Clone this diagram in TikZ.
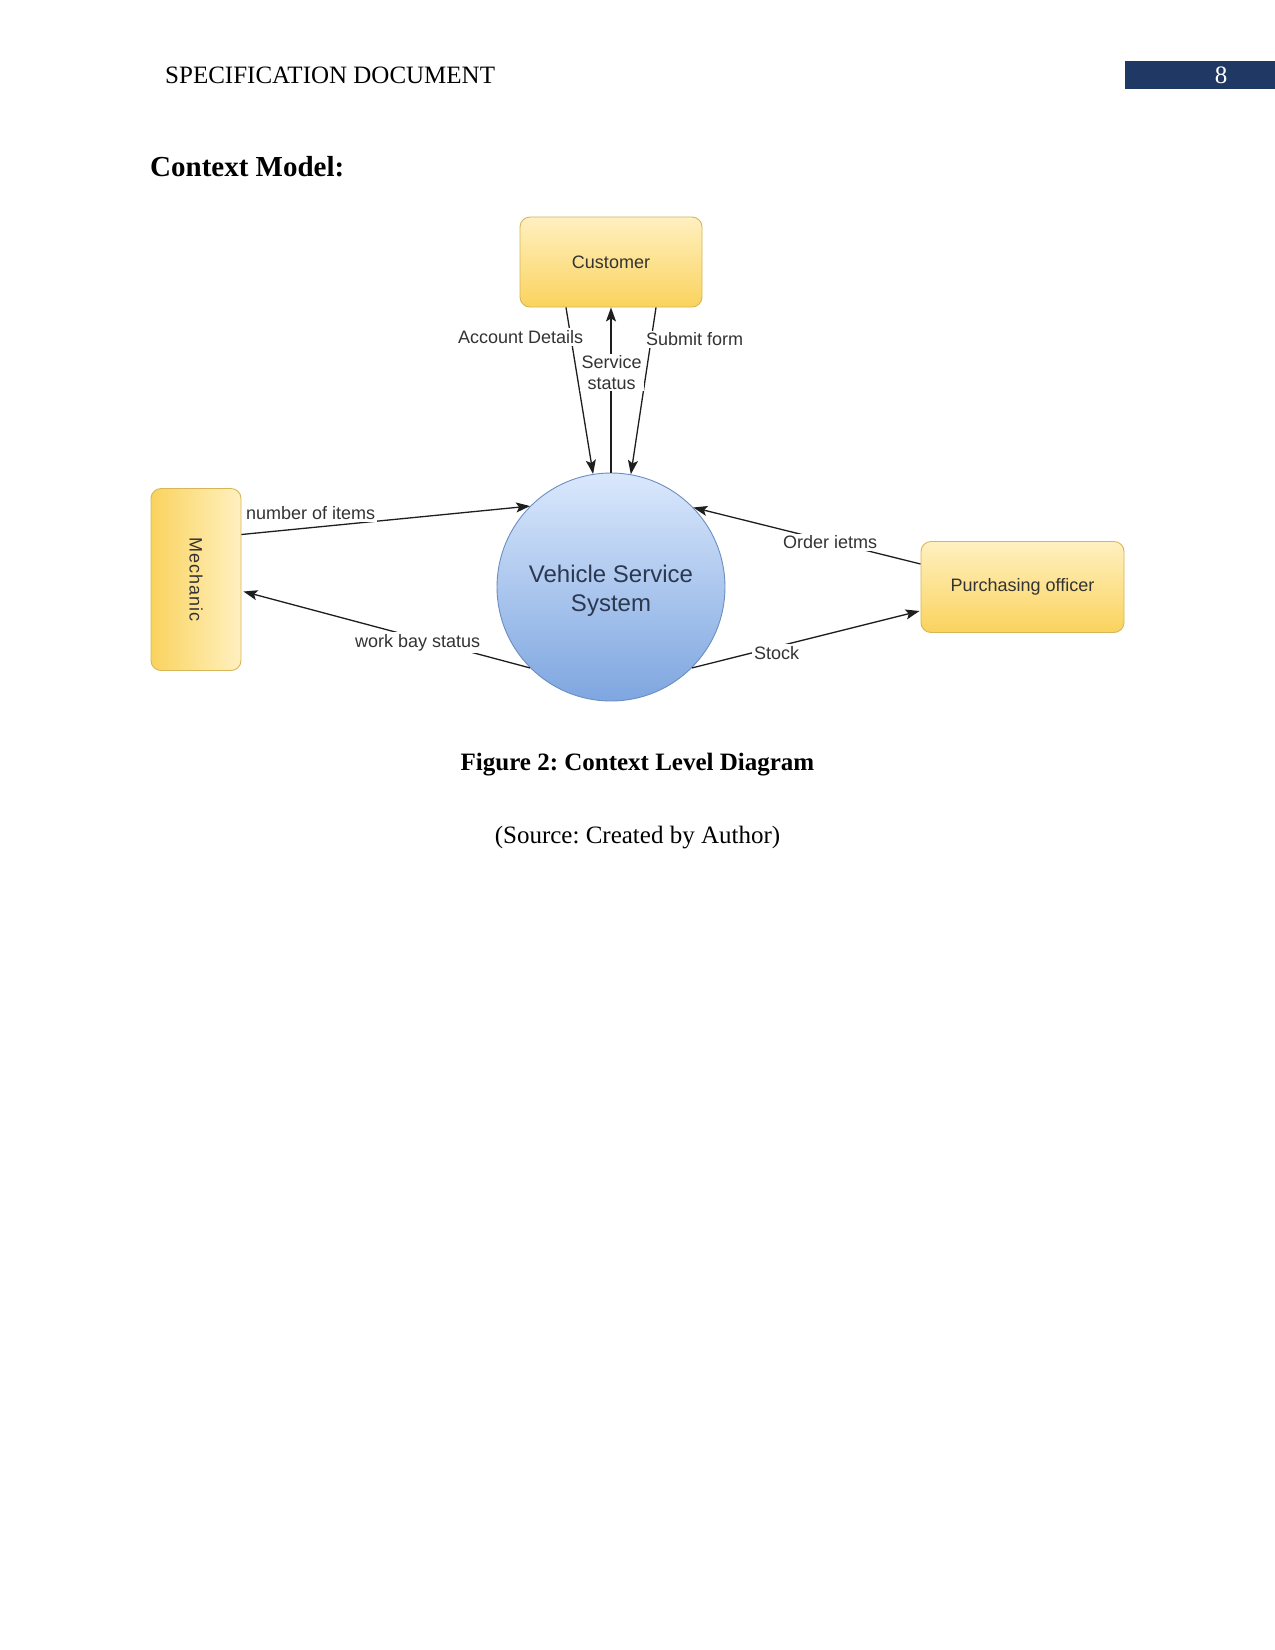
\documentclass[tikz,border=0pt]{standalone}
\usepackage{fontspec}
\setmainfont{Liberation Serif}
\newfontfamily\diagfont{Liberation Sans}
\usetikzlibrary{arrows.meta,calc}
\frenchspacing
\definecolor{hdrblue}{HTML}{1F3864}
\definecolor{ylwlight}{HTML}{FFF0C0}
\definecolor{ylwdark}{HTML}{FAD35E}
\definecolor{ylwline}{HTML}{D6B656}
\definecolor{bluelight}{HTML}{DAE8FC}
\definecolor{bluedark}{HTML}{7EA6E0}
\definecolor{blueline}{HTML}{6C8EBF}
\definecolor{systext}{HTML}{2B3850}
\definecolor{lbltext}{HTML}{333333}
\definecolor{flowline}{HTML}{1E1E1E}
\begin{document}
\begin{tikzpicture}[x=1pt,y=-1pt,
  entity/.style={rounded corners=10pt, draw=ylwline, line width=0.9pt,
    font=\diagfont\fontsize{18}{21}\selectfont, text=lbltext, inner sep=0pt},
  flow/.style={draw=flowline, line width=1.3pt, -{Stealth[length=14pt,width=10pt,inset=3pt]}},
  flowlbl/.style={fill=white, inner sep=2pt, font=\diagfont\fontsize{18}{20.5}\selectfont,
    text=lbltext, align=center}]
\useasboundingbox[fill=white] (0,0) rectangle (1275,1650);

% header
\node[anchor=base west, font=\fontsize{25}{30}\selectfont, inner sep=0pt] (hdr) at (165,83) {SPECIFICATION DOCUMENT};
\node[fill=hdrblue, minimum width=150pt, minimum height=28pt, inner sep=0pt, anchor=north west] (pgbox) at (1125,61) {};
\node[anchor=base, font=\fontsize{25}{30}\selectfont, text=white, inner sep=0pt] (pgnum) at (1221,83) {8};

\node[anchor=base west, font=\bfseries\fontsize{29}{34}\selectfont, inner sep=0pt] (title) at (150,176) {Context Model:};

% entities
\node[entity, top color=ylwlight, bottom color=ylwdark, minimum width=182pt, minimum height=90pt] (cust) at (611,262) {Customer};
\node[entity, left color=ylwdark, right color=ylwlight, minimum width=90pt, minimum height=182pt] (mech) at (196,579.5) {};
\node[font=\diagfont\fontsize{18}{21}\selectfont, text=lbltext, rotate=-90, inner sep=0pt] (mechtxt) at (mech.center) {M\kern1pt e\kern1pt c\kern1pt h\kern1pt a\kern1pt n\kern1pt i\kern1pt c};
\node[entity, top color=ylwlight, bottom color=ylwdark, minimum width=203pt, minimum height=91pt] (purch) at (1022.5,587) {Purchasing officer};

% process
\node[circle, minimum size=228pt, inner sep=0pt, draw=blueline, line width=0.9pt,
  top color=bluelight, bottom color=bluedark, text=systext, align=center,
  font=\diagfont\fontsize{24}{29.4}\selectfont] (sys) at (611,587) {};
\node[text=systext, align=center, font=\diagfont\fontsize{24}{29.4}\selectfont, inner sep=0pt] (systxt) at (611,591) {Vehicle Service\\System};

% flows
\draw[flow] ($(cust.south)+(-45,0)$) -- (sys.99);
\draw[flow] (sys.90) -- (cust.south);
\draw[flow] ($(cust.south)+(45,0)$) -- (sys.80.6);
\draw[flow] ($(mech.east)+(0,-45)$) -- (sys.135);
\draw[flow] (sys.225) -- ($(mech.east)+(2,12)$);
\draw[flow] ($(purch.west)+(0,-23)$) -- (sys.44);
\draw[flow] (sys.315) -- ($(purch.west)+(-1,24)$);

% labels
\node[flowlbl, anchor=west] (lacc) at (456,337) {Account Details};
\node[flowlbl] (lsrv) at (611.7,372.5) {Service\\status};
\node[flowlbl, anchor=west] (lsub) at (644,339.3) {Submit form};
\node[flowlbl, anchor=west] (lnum) at (244,513) {number of items};
\node[flowlbl, anchor=west] (lwrk) at (353,642.7) {work bay status};
\node[flowlbl, anchor=west] (lord) at (781,542.3) {Order ietms};
\node[flowlbl, anchor=west] (lstk) at (752,652.7) {Stock};

% caption
\node[anchor=base, font=\bfseries\fontsize{25}{30}\selectfont, inner sep=0pt] (cap) at (637.5,770) {Figure 2: Context Level Diagram};
\node[anchor=base, font=\fontsize{25}{30}\selectfont, inner sep=0pt] (src) at (637.5,843) {(Source: Created by Author)};
\end{tikzpicture}
\end{document}
